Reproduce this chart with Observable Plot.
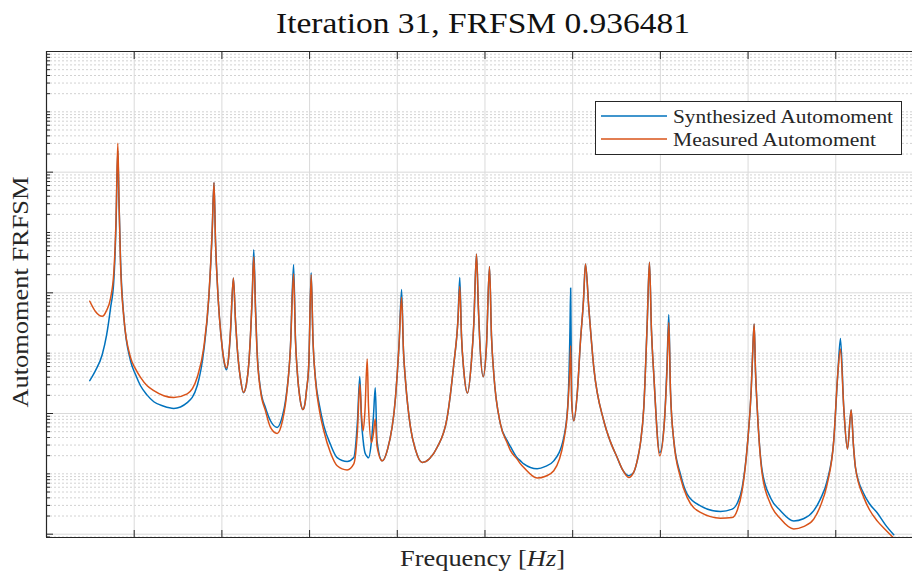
<!DOCTYPE html>
<html><head><meta charset="utf-8">
<script src="https://cdn.jsdelivr.net/npm/d3@7"></script>
<script src="https://cdn.jsdelivr.net/npm/@observablehq/plot@0.6"></script>
<style>
html,body{margin:0;padding:0;background:#fff;overflow:hidden;}
#chart{width:912px;height:576px;}
</style></head><body><div id="chart"></div>
<script>
const titleText = "Iteration 31, FRFSM 0.936481";
const xLabelText = "Frequency ";
const xLabelUnit = "Hz";
const yLabelText = "Automoment FRFSM";
const seriesNames = ["Synthesized Automoment", "Measured Automoment"];
const seriesColors = ["#0072BD", "#D95319"];

// frequency (Hz) of each sample
const freqHz = [
  98.7,111.7,127.0,136.8,145.9,153.5,158.5,162.6,165.3,168.8,
  176.3,191.6,203.0,214.4,229.6,244.7,267.5,290.3,320.9,343.7,
  358.7,370.1,377.9,382.0,385.4,389.3,400.7,405.9,410.5,415.1,
  419.6,426.2,431.0,434.9,442.4,449.3,456.1,461.3,469.1,472.7,
  476.6,480.0,488.0,499.4,510.8,526.1,538.2,545.0,556.4,563.5,
  567.8,571.7,578.1,584.5,589.5,592.9,598.2,603.6,607.8,613.5,
  622.6,632.4,647.7,662.9,685.7,700.8,709.2,714.5,718.4,722.2,
  726.3,731.4,734.3,741.2,745.7,749.8,753.7,765.6,777.0,795.9,
  803.9,809.8,814.1,818.7,830.1,841.5,856.8,873.4,891.0,913.8,
  928.9,938.4,942.5,946.4,951.7,960.1,969.2,974.5,980.6,985.2,
  988.1,995.9,1003.4,1010.3,1014.8,1020.1,1035.3,1050.6,1058.2,1073.4,
  1081.0,1088.5,1119.0,1138.0,1156.9,1179.7,1188.8,1193.8,1195.4,1197.7,
  1202.5,1210.9,1217.8,1224.6,1229.2,1236.7,1248.1,1270.9,1286.2,1301.5,
  1313.6,1327.9,1338.7,1347.1,1354.6,1362.2,1369.9,1375.1,1379.7,1384.9,
  1398.6,1409.3,1415.1,1419.2,1423.0,1430.6,1445.8,1461.1,1491.4,1537.1,
  1563.7,1575.8,1586.5,1599.3,1607.1,1610.7,1613.9,1616.9,1620.8,1632.2,
  1651.1,1673.9,1704.2,1726.3,1749.8,1765.1,1780.4,1795.4,1804.6,1810.7,
  1818.2,1826.7,1835.1,1840.4,1844.9,1863.9,1876.9,1894.4,1913.3,1932.3
];
// synthesized automoment, dB (20·log10)
const synthesizedDb = [
  -109.1,-105.8,-100.5,-94.2,-85.2,-76.0,-57.7,-32.8,-49.4,-68.7,
  -87.9,-102.5,-107.1,-110.8,-113.9,-116.1,-117.6,-118.3,-116.4,-110.8,
  -99.2,-81.9,-59.4,-43.4,-62.7,-76.0,-98.1,-103.6,-105.5,-101.8,
  -93.2,-75.1,-89.2,-98.1,-108.5,-113.1,-110.1,-103.5,-81.3,-65.7,
  -84.2,-98.5,-111.8,-118.1,-122.4,-124.6,-120.7,-115.8,-97.8,-70.6,
  -95.2,-105.8,-115.1,-118.7,-116.7,-112.4,-103.5,-73.3,-95.9,-108.5,
  -117.4,-124.0,-130.3,-134.6,-135.9,-134.6,-122.4,-107.7,-122.4,-129.0,
  -133.0,-134.3,-134.7,-129.0,-120.7,-111.5,-129.0,-135.7,-132.3,-114.7,
  -97.5,-78.9,-99.2,-109.1,-124.6,-132.0,-136.2,-135.0,-131.2,-121.3,
  -103.6,-88.6,-74.9,-94.2,-105.8,-113.2,-102.5,-90.3,-67.1,-85.9,
  -95.9,-107.8,-97.5,-71.3,-94.2,-106.9,-123.5,-129.0,-131.0,-134.7,
  -135.7,-136.7,-138.3,-137.5,-135.7,-127.9,-117.4,-92.5,-78.4,-115.8,
  -122.4,-112.4,-95.9,-82.6,-70.4,-84.8,-104.7,-122.4,-129.4,-134.6,
  -138.6,-140.6,-139.6,-135.7,-129.7,-118.0,-90.3,-69.9,-92.5,-106.9,
  -133.0,-122.4,-104.1,-87.2,-112.4,-129.0,-140.1,-146.7,-150.6,-152.5,
  -151.7,-149.6,-144.6,-129.0,-112.4,-99.2,-90.3,-105.8,-118.0,-139.0,
  -147.9,-152.2,-155.6,-154.9,-152.2,-148.3,-142.3,-129.0,-106.9,-95.1,
  -118.0,-131.8,-118.8,-130.7,-137.9,-146.6,-149.9,-152.9,-156.9,-160.2
];
// measured automoment, dB (20·log10)
const measuredDb = [
  -82.8,-86.2,-87.8,-85.9,-81.9,-73.3,-56.1,-30.4,-49.4,-70.3,
  -88.1,-101.4,-105.2,-108.0,-110.8,-112.4,-114.1,-114.7,-113.5,-108.0,
  -98.1,-81.5,-59.4,-43.4,-62.7,-76.0,-98.1,-103.2,-104.9,-101.8,
  -92.5,-75.1,-89.2,-98.1,-108.5,-113.0,-110.1,-103.6,-81.5,-68.0,
  -85.9,-99.2,-112.4,-119.1,-124.6,-126.6,-122.4,-116.8,-98.1,-73.7,
  -95.9,-105.8,-115.1,-118.7,-116.7,-112.4,-103.6,-74.0,-95.9,-109.1,
  -119.1,-125.7,-133.0,-137.3,-138.7,-136.7,-125.7,-110.2,-120.7,-125.7,
  -119.1,-101.9,-117.4,-129.6,-126.4,-121.8,-130.7,-135.7,-132.3,-114.7,
  -97.5,-81.5,-99.2,-109.1,-124.6,-132.0,-136.2,-135.0,-131.2,-121.3,
  -103.6,-89.2,-77.9,-94.2,-105.8,-113.2,-102.5,-90.3,-67.1,-85.9,
  -95.9,-107.8,-97.5,-71.3,-94.2,-106.9,-123.5,-129.7,-132.3,-135.1,
  -136.7,-137.9,-141.4,-140.8,-139.0,-129.0,-118.0,-104.1,-97.5,-115.8,
  -122.4,-112.4,-95.9,-82.6,-70.4,-84.8,-104.7,-122.4,-129.4,-134.6,
  -138.6,-141.2,-139.6,-135.7,-129.7,-118.0,-90.3,-69.9,-92.5,-106.9,
  -134.0,-122.4,-105.8,-89.8,-112.4,-129.0,-141.2,-147.8,-152.8,-154.7,
  -154.5,-151.9,-145.6,-129.0,-112.4,-99.2,-90.3,-105.8,-118.0,-140.1,
  -150.0,-154.9,-158.3,-157.5,-155.0,-150.6,-143.4,-129.0,-106.9,-98.6,
  -118.0,-131.8,-118.8,-130.7,-137.9,-147.8,-151.9,-155.6,-158.5,-161.3
];

const xTicksHz = [200, 400, 600, 800, 1000, 1200, 1400, 1600, 1800];
const xDomainHz = [0, 1975];
const yDomainDb = [-161.1, 0];
const decadeExponents = [-8, -7, -6, -5, -4, -3, -2, -1, 0];
const majorExponents = [-8, -6, -4, -2, 0];
const minorMantissas = [2, 3, 4, 5, 6, 7, 8, 9];

const toAmp = db => 10 ** (db / 20);
const n = Math.min(freqHz.length, synthesizedDb.length, measuredDb.length);
const rows = d3.range(n).map(i => ({f: freqHz[i], synth: toAmp(synthesizedDb[i]), meas: toAmp(measuredDb[i])}))
  .sort((a, b) => a.f - b.f);
const yDom = yDomainDb.map(toAmp);
const majorY = majorExponents.map(e => 10 ** e);
let minorY = decadeExponents.filter(e => !majorExponents.includes(e)).map(e => 10 ** e);
for (let e = -9; e < 0; e++) for (const m of minorMantissas) minorY.push(m * 10 ** e);
minorY = minorY.filter(v => v >= yDom[0] && v <= yDom[1]);

const axisColor = "#262626";
const plot = Plot.plot({
  width: 912, height: 576,
  marginLeft: 46, marginRight: 0, marginTop: 51, marginBottom: 39,
  style: {background: "#fff", overflow: "hidden"},
  x: {domain: xDomainHz},
  y: {type: "log", domain: yDom},
  marks: [
    Plot.ruleY(minorY, {stroke: "#d2d2d2", strokeDasharray: "2,2", strokeWidth: 1}),
    Plot.ruleY(majorY, {stroke: "#dadada", strokeWidth: 1}),
    Plot.ruleX(xTicksHz, {stroke: "#dadada", strokeWidth: 1}),
    Plot.line(rows, {x: "f", y: "synth", stroke: seriesColors[0], strokeWidth: 1.5, curve: "monotone-x", clip: true}),
    Plot.line(rows, {x: "f", y: "meas", stroke: seriesColors[1], strokeWidth: 1.5, curve: "monotone-x", clip: true}),
    Plot.axisX(xTicksHz, {anchor: "bottom", tickSize: 7, dy: -7, tickFormat: () => "", label: null, stroke: axisColor}),
    Plot.axisX(xTicksHz, {anchor: "top", tickSize: 7, dy: 7, tickFormat: () => "", label: null, stroke: axisColor}),
    Plot.axisY(majorY, {anchor: "left", tickSize: 7, dx: 7, tickFormat: () => "", label: null, stroke: axisColor}),
    Plot.axisY(minorY, {anchor: "left", tickSize: 4, dx: 4, tickFormat: () => "", label: null, stroke: axisColor}),
    Plot.ruleX([xDomainHz[0]], {stroke: axisColor, strokeWidth: 1.2}),
    Plot.ruleY([yDom[0]], {stroke: axisColor, strokeWidth: 1.2}),
    Plot.ruleY([yDom[1]], {stroke: axisColor, strokeWidth: 1.2})
  ]
});
document.getElementById("chart").appendChild(plot);

const svg = d3.select(plot);
const serif = "'Liberation Serif', 'Times New Roman', serif";
svg.append("text").attr("x", 483).attr("y", 33).attr("text-anchor", "middle")
  .attr("font-family", serif).attr("font-size", 30).attr("fill", "#111")
  .attr("textLength", 414).attr("lengthAdjust", "spacingAndGlyphs").text(titleText);
const xl = svg.append("text").attr("x", 482.5).attr("y", 566).attr("text-anchor", "middle")
  .attr("font-family", serif).attr("font-size", 24).attr("fill", "#262626")
  .attr("textLength", 165).attr("lengthAdjust", "spacingAndGlyphs");
xl.append("tspan").text(xLabelText + "[");
xl.append("tspan").attr("font-style", "italic").text(xLabelUnit);
xl.append("tspan").text("]");
svg.append("text").attr("transform", "translate(28,292) rotate(-90)").attr("text-anchor", "middle")
  .attr("font-family", serif).attr("font-size", 24).attr("fill", "#262626")
  .attr("textLength", 231).attr("lengthAdjust", "spacingAndGlyphs").text(yLabelText);

const lg = svg.append("g");
lg.append("rect").attr("x", 595.5).attr("y", 101.5).attr("width", 306).attr("height", 53)
  .attr("fill", "#fff").attr("stroke", axisColor).attr("stroke-width", 1);
const legendRows = [116, 139];
const legendLens = [220, 203];
seriesNames.forEach((name, i) => {
  lg.append("line").attr("x1", 601).attr("x2", 667).attr("y1", legendRows[i]).attr("y2", legendRows[i])
    .attr("stroke", seriesColors[i]).attr("stroke-width", 1.5);
  lg.append("text").attr("x", 673).attr("y", legendRows[i]).attr("dy", "0.35em").attr("text-anchor", "start")
    .attr("font-family", serif).attr("font-size", 19).attr("fill", "#262626")
    .attr("textLength", legendLens[i]).attr("lengthAdjust", "spacingAndGlyphs").text(name);
});
</script></body></html>
